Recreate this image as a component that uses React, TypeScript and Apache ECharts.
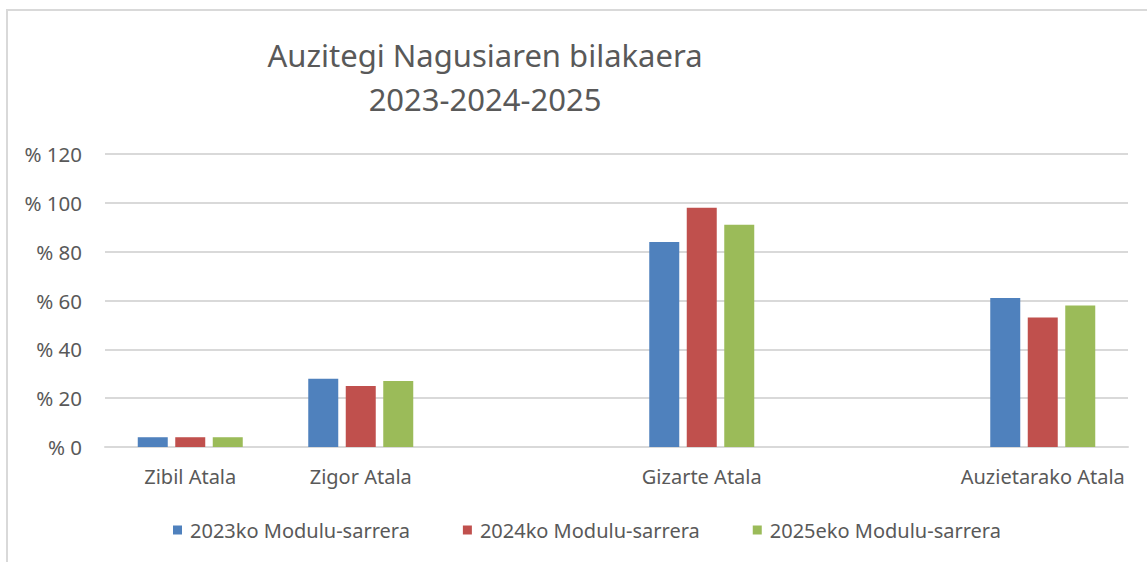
import React, { useEffect, useRef } from "react";
import * as echarts from "echarts";

const categories = ["Zibil Atala", "Zigor Atala", "", "Gizarte Atala", "", "Auzietarako Atala"];
const seriesNames = ["2023ko Modulu-sarrera", "2024ko Modulu-sarrera", "2025eko Modulu-sarrera"];
const values2023 = [4, 28, null, 84, null, 61];
const values2024 = [4, 25, null, 98, null, 53];
const values2025 = [4, 27, null, 91, null, 58];
const colors = ["#4F81BD", "#C0504D", "#9BBB59"];
const yTicks = { min: 0, max: 120, interval: 20 };

const FONT = "'Noto Sans', sans-serif";
const TEXT = "#595959";

export default function App() {
  const ref = useRef<HTMLDivElement>(null);
  useEffect(() => {
    document.body.style.margin = "0";
    const chart = echarts.init(ref.current!, null, { renderer: "svg" });
    const allValues = [values2023, values2024, values2025];
    chart.setOption({
      animation: false,
      backgroundColor: "#ffffff",
      title: {
        text: "Auzitegi Nagusiaren bilakaera\n2023-2024-2025",
        left: 480,
        top: 28,
        textAlign: "center",
        textStyle: { fontFamily: FONT, fontSize: 31, fontWeight: "normal", color: TEXT, lineHeight: 44 },
      },
      graphic: [
        {
          type: "rect",
          shape: { x: 7, y: 10, width: 1200, height: 600 },
          style: { fill: "none", stroke: "#d9d9d9", lineWidth: 2 },
          silent: true,
        },
      ],
      legend: {
        left: 168,
        top: 515,
        icon: "rect",
        itemWidth: 9,
        itemHeight: 9,
        itemGap: 53,
        textStyle: { fontFamily: FONT, fontSize: 20, color: TEXT, padding: [0, 0, 0, 3] },
        data: seriesNames,
      },
      grid: { left: 105, right: 19, top: 154, bottom: 115 },
      xAxis: {
        type: "category",
        data: categories,
        axisLine: { lineStyle: { color: "#d9d9d9", width: 2 } },
        axisTick: { show: false },
        axisLabel: { interval: 0, fontFamily: FONT, fontSize: 20, color: TEXT, margin: 19 },
      },
      yAxis: {
        type: "value",
        min: yTicks.min,
        max: yTicks.max,
        interval: yTicks.interval,
        axisLine: { show: false },
        axisTick: { show: false },
        splitLine: { lineStyle: { color: "#d9d9d9", width: 2 } },
        axisLabel: {
          fontFamily: FONT,
          fontSize: 20.5,
          color: TEXT,
          margin: 23,
          formatter: (v: number) => "% " + v,
        },
      },
      series: seriesNames.map((name, i) => ({
        name,
        type: "bar",
        data: allValues[i],
        barWidth: 30,
        barGap: "25%",
        itemStyle: { color: colors[i] },
      })),
    });
    return () => chart.dispose();
  }, []);
  return <div ref={ref} style={{ width: 1147, height: 562 }} />;
}
